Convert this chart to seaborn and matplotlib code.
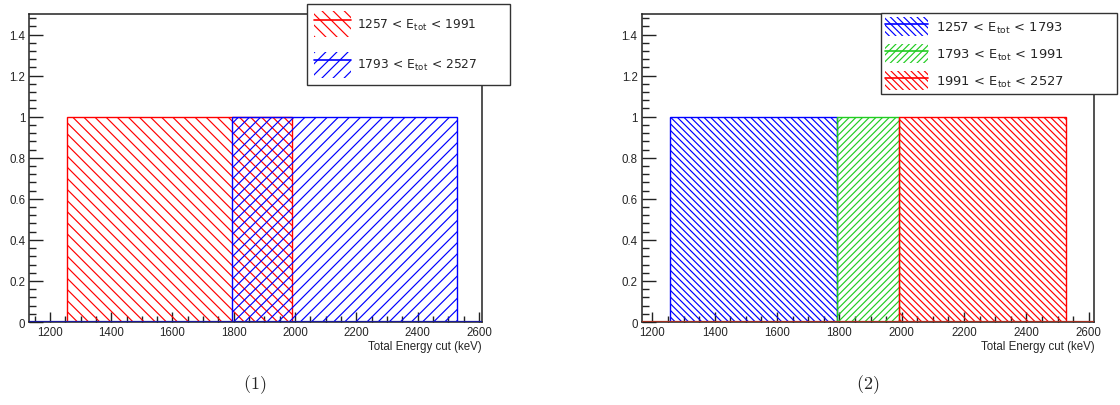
import matplotlib
matplotlib.use("Agg")
import matplotlib.pyplot as plt
import matplotlib.patches as mpatches
import matplotlib.lines as mlines
from matplotlib.ticker import MultipleLocator, FuncFormatter
import seaborn as sns

# Energy windows (keV) for the two selections
left_lo = [1257, 1793]
left_hi = [1991, 2527]
left_colors = ["#ff0000", "#0000ff"]
left_hatches = ["\\" * 3, "/" * 3]

right_lo = [1257, 1793, 1991]
right_hi = [1793, 1991, 2527]
right_colors = ["#0000ff", "#22cc22", "#ff0000"]
right_hatches = ["\\" * 5, "/" * 5, "\\" * 5]

bin_height = [1, 1, 1]
xlabel = "Total Energy cut (keV)"
panel_tags = [r"$(1)$", r"$(2)$"]

sns.set_theme(style="white")
plt.rcParams["font.family"] = ["Liberation Sans", "DejaVu Sans"]
plt.rcParams["mathtext.fontset"] = "cm"
plt.rcParams["hatch.linewidth"] = 0.85

fig = plt.figure(figsize=(11.2, 4.06), dpi=100)
ax1 = fig.add_axes([0.0262, 0.2044, 0.4042, 0.7586])
ax2 = fig.add_axes([0.5730, 0.2044, 0.4041, 0.7586])


def draw_windows(ax, lows, highs, colors, hatches):
    for lo, hi, c, h, w in zip(lows, highs, colors, hatches, bin_height):
        n_before = len(ax.patches)
        sns.histplot(x=[(lo + hi) / 2], bins=[lo, hi], weights=[w],
                     ax=ax, fill=True, color=c)
        for p in ax.patches[n_before:]:
            p.set_facecolor("none")
            p.set_edgecolor(c)
            p.set_hatch(h)
            p.set_linewidth(1.0)
            p.set_alpha(1)


def style_axes(ax, xlim):
    ax.set_xlim(*xlim)
    ax.set_ylim(0, 1.5)
    ax.set_ylabel("")
    ax.set_xlabel("")
    for s in ax.spines.values():
        s.set_color("#222222")
        s.set_linewidth(1.1)
        s.set_visible(True)
    ax.xaxis.set_major_locator(MultipleLocator(200))
    ax.xaxis.set_minor_locator(MultipleLocator(50))
    ax.yaxis.set_major_locator(MultipleLocator(0.2))
    ax.yaxis.set_minor_locator(MultipleLocator(0.04))
    ax.yaxis.set_major_formatter(FuncFormatter(lambda v, _: f"{v:g}"))
    ax.tick_params(axis="y", which="major", direction="in", length=10,
                   width=1.0, color="#222222", labelsize=8.3, pad=3,
                   left=True, right=False)
    ax.tick_params(axis="y", which="minor", direction="in", length=5,
                   width=1.0, color="#222222", left=True, right=False)
    ax.tick_params(axis="x", which="major", direction="in", length=7,
                   width=1.0, color="#222222", labelsize=8.3, pad=3,
                   bottom=True, top=False)
    ax.tick_params(axis="x", which="minor", direction="in", length=4,
                   width=1.0, color="#222222", bottom=True, top=False)
    ax.text(1.0, -0.058, xlabel, transform=ax.transAxes, ha="right",
            va="top", fontsize=8.3)


draw_windows(ax1, left_lo, left_hi, left_colors, left_hatches)
draw_windows(ax2, right_lo, right_hi, right_colors, right_hatches)
style_axes(ax1, (1133, 2610))
style_axes(ax2, (1166, 2618))
ax1.axhline(0, color="#1a1a9a", lw=1.6, zorder=5)
ax2.axhline(0, color="#a03020", lw=1.6, zorder=5)


def legend_handles(colors, hatches):
    hs = []
    for c, h in zip(colors, hatches):
        patch = mpatches.Patch(facecolor="none", edgecolor=c, hatch=h, lw=0)
        line = mlines.Line2D([], [], color=c, lw=1.2)
        hs.append((patch, line))
    return hs


def etot_label(lo, hi):
    return f"{lo} < E$_\\mathregular{{tot}}$ < {hi}"


leg1 = fig.legend(legend_handles(left_colors, left_hatches),
                  [etot_label(a, b) for a, b in zip(left_lo, left_hi)],
                  loc="upper left",
                  bbox_to_anchor=(307 / 1120, 1 - 5 / 406, 203 / 1120, 0.0),
                  mode="expand", borderaxespad=0, fancybox=False,
                  framealpha=1, edgecolor="#333333", handlelength=2.95,
                  handleheight=2.9, labelspacing=1.15, borderpad=0.61,
                  handletextpad=0.55,
                  prop={"family": "DejaVu Sans", "size": 8.8})
leg1.get_frame().set_linewidth(1.0)

leg2 = fig.legend(legend_handles(right_colors, right_hatches),
                  [etot_label(a, b) for a, b in zip(right_lo, right_hi)],
                  loc="upper left",
                  bbox_to_anchor=(881 / 1120, 1 - 14 / 406, 236 / 1120, 0.0),
                  mode="expand", borderaxespad=0, fancybox=False,
                  framealpha=1, edgecolor="#333333", handlelength=3.3,
                  handleheight=1.86, labelspacing=0.61, borderpad=0.3,
                  handletextpad=0.6,
                  prop={"family": "DejaVu Sans", "size": 9.4})
leg2.get_frame().set_linewidth(1.0)

fig.text(255 / 1120, 1 - 385 / 406, panel_tags[0], ha="center", va="center",
         fontsize=13)
fig.text(868 / 1120, 1 - 385 / 406, panel_tags[1], ha="center", va="center",
         fontsize=13)

fig.savefig("out.png", dpi=100)
